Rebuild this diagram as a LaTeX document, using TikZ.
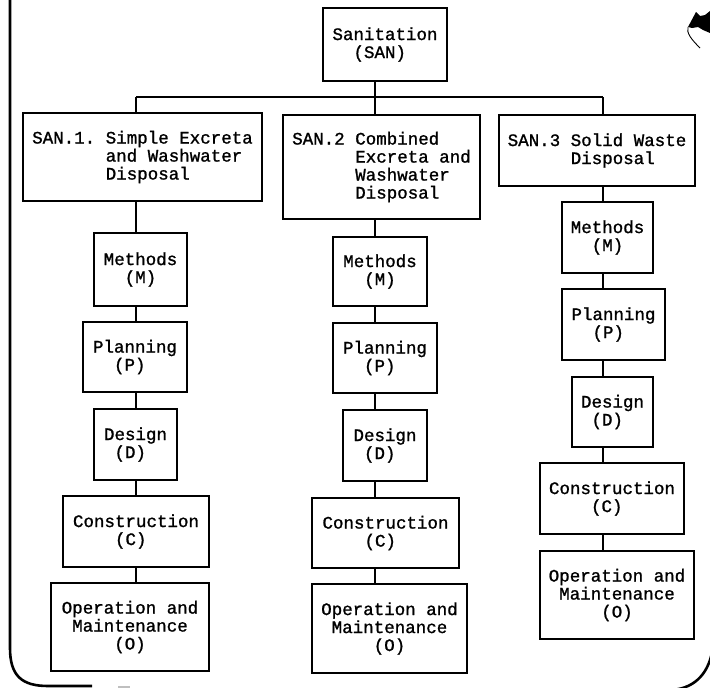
\documentclass[tikz,border=0pt]{standalone}
\usepackage{fontspec}
\setmainfont{Liberation Mono}[FakeBold=1.2]
\begin{document}
\begin{tikzpicture}[x=1pt,y=-1pt,
  box/.style={draw, line width=1.5pt, inner sep=0pt, align=left,
    font=\fontsize{17.5}{18}\selectfont\frenchspacing},
  link/.style={line width=1.2pt},
  frame/.style={line width=2.6pt}]
\useasboundingbox (0,0) rectangle (710,688);
\newcommand\ind[1]{\phantom{#1}}
% top
\node[box, minimum width=124pt, minimum height=73pt] (top) at (385,44.5) {Sanitation\\\ind{xx}(SAN)};
% level 1
\node[box, minimum width=239pt, minimum height=88pt] (s1) at (142.5,157) {SAN.1. Simple Excreta\\\ind{xxxxxxx}and Washwater\\\ind{xxxxxxx}Disposal};
\node[box, minimum width=197pt, minimum height=104pt] (s2) at (381.5,167) {SAN.2 Combined\\\ind{xxxxxx}Excreta and\\\ind{xxxxxx}Washwater\\\ind{xxxxxx}Disposal};
\node[box, minimum width=196pt, minimum height=71pt] (s3) at (597,150.5) {SAN.3 Solid Waste\\\ind{xxxxxx}Disposal};
% column 1
\node[box, minimum width=93pt, minimum height=73pt] (m1) at (140.5,269.5) {Methods\\\ind{xx}(M)};
\node[box, minimum width=104pt, minimum height=70pt] (p1) at (135,357) {Planning\\\ind{xx}(P)};
\node[box, minimum width=83pt, minimum height=71pt] (d1) at (135.5,444.5) {Design\\\ind{x}(D)};
\node[box, minimum width=146pt, minimum height=71pt] (c1) at (136,531.5) {Construction\\\ind{xxxx}(C)};
\node[box, minimum width=158pt, minimum height=88pt] (o1) at (130,627) {Operation and\\\ind{x}Maintenance\\\ind{xxxxx}(O)};
% column 2
\node[box, minimum width=94pt, minimum height=69pt] (m2) at (380,271.5) {Methods\\\ind{xx}(M)};
\node[box, minimum width=104pt, minimum height=70pt] (p2) at (385,358) {Planning\\\ind{xx}(P)};
\node[box, minimum width=84pt, minimum height=71pt] (d2) at (385,445.5) {Design\\\ind{x}(D)};
\node[box, minimum width=147pt, minimum height=70pt] (c2) at (385.5,533) {Construction\\\ind{xxxx}(C)};
\node[box, minimum width=155pt, minimum height=89pt] (o2) at (389.5,628.5) {Operation and\\\ind{x}Maintenance\\\ind{xxxxx}(O)};
% column 3
\node[box, minimum width=91pt, minimum height=71pt] (m3) at (607.5,237.5) {Methods\\\ind{xx}(M)};
\node[box, minimum width=103pt, minimum height=71pt] (p3) at (613.5,324.5) {Planning\\\ind{xx}(P)};
\node[box, minimum width=81pt, minimum height=70pt] (d3) at (612.5,412) {Design\\\ind{x}(D)};
\node[box, minimum width=144pt, minimum height=71pt] (c3) at (612,498.5) {Construction\\\ind{xxxx}(C)};
\node[box, minimum width=154pt, minimum height=88pt] (o3) at (617,595) {Operation and\\\ind{x}Maintenance\\\ind{xxxxx}(O)};
% connector columns
\coordinate (busL) at (136,97);
\coordinate (busM) at (375,97);
\coordinate (busR) at (603,97);
\draw[link] (busL) -- (busR);
\draw[link] (top.south -| busM) -- (busM) -- (s2.north -| busM);
\draw[link] (busL) -- (s1.north -| busL);
\draw[link] (busR) -- (s3.north -| busR);
% column 1 links
\draw[link] (s1.south -| busL) -- (m1.north -| busL);
\draw[link] (m1.south -| busL) -- (p1.north -| busL);
\draw[link] (p1.south -| busL) -- (d1.north -| busL);
\draw[link] (d1.south -| busL) -- (c1.north -| busL);
\draw[link] (c1.south -| busL) -- (o1.north -| busL);
% column 2 links
\draw[link] (s2.south -| busM) -- (m2.north -| busM);
\draw[link] (m2.south -| busM) -- (p2.north -| busM);
\draw[link] (p2.south -| busM) -- (d2.north -| busM);
\draw[link] (d2.south -| busM) -- (c2.north -| busM);
\draw[link] (c2.south -| busM) -- (o2.north -| busM);
% column 3 links
\draw[link] (s3.south -| busR) -- (m3.north -| busR);
\draw[link] (m3.south -| busR) -- (p3.north -| busR);
\draw[link] (p3.south -| busR) -- (d3.north -| busR);
\draw[link] (d3.south -| busR) -- (c3.north -| busR);
\draw[link] (c3.south -| busR) -- (o3.north -| busR);
% outer frame (partly visible)
\draw[frame] (10,-2) -- (10,648) .. controls (10,676) and (22,686) .. (48,686) -- (92,686);
\draw[line width=1.5pt, gray!50] (118,687) -- (130,687);
\draw[frame] (672,690) .. controls (696,688) and (710,672) .. (713,646);
% smudge at top right
\fill (696,12) -- (700,16) -- (705,15) -- (710,11) -- (710,33) -- (703,30) -- (698,27) -- (692,28) -- (688,27) -- cycle;
\draw[line width=0.9pt] (688,27) .. controls (686,33) and (692,40) .. (700,48);
\end{tikzpicture}
\end{document}
